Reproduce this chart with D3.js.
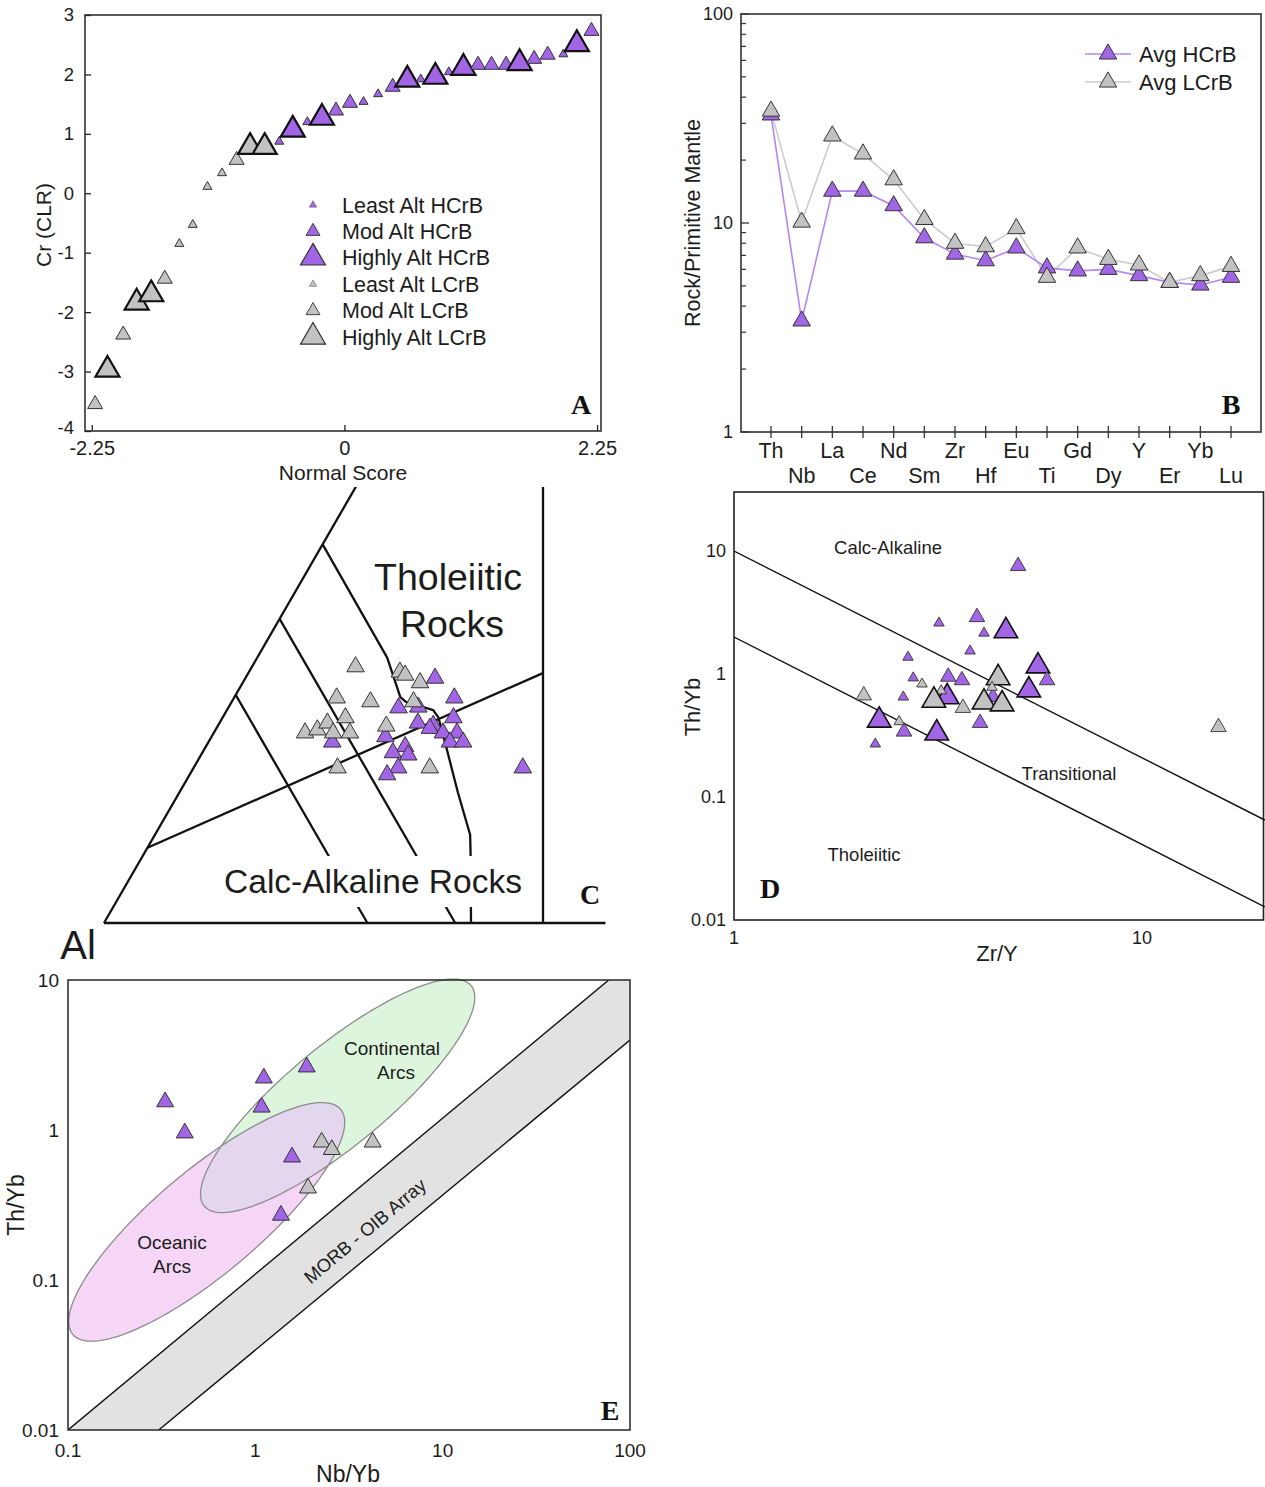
<!DOCTYPE html>
<html>
<head>
<meta charset="utf-8">
<script src="https://cdn.jsdelivr.net/npm/d3@7"></script>
<style>
  body { margin: 0; background: #fff; }
  svg { display: block; }
  text { font-family: "Liberation Sans", Arial, sans-serif; fill: #1c1c1c; }
  .panel-letter { font-family: "Liberation Serif", "Times New Roman", serif; font-weight: bold; font-size: 28px; fill: #111; }
</style>
</head>
<body>
<svg id="fig" width="1265" height="1487"></svg>
<script>
// ---------------- Panel A: normal-score plot of Cr (CLR) ----------------
const normalScoreA = [-2.22,-2.11,-1.97,-1.85,-1.72,-1.60,-1.47,-1.35,-1.22,-1.09,-0.96,-0.84,-0.71,-0.58,-0.46,-0.33,-0.20,-0.075,0.05,0.17,0.30,0.43,0.56,0.68,0.81,0.93,1.06,1.19,1.31,1.44,1.56,1.69,1.81,1.95,2.07,2.20];
const crClrA = [-3.55,-2.97,-2.38,-1.84,-1.70,-1.44,-0.85,-0.53,0.11,0.34,0.56,0.78,0.78,0.87,1.07,1.20,1.27,1.39,1.52,1.54,1.67,1.79,1.91,1.92,1.96,2.04,2.11,2.16,2.16,2.16,2.19,2.26,2.33,2.34,2.51,2.73];
const crbTypeA = ["L","L","L","L","L","L","L","L","L","L","L","L","L","H","H","H","H","H","H","H","H","H","H","H","H","H","H","H","H","H","H","H","H","H","H","H"];
const alterationA = ["mod","highly","mod","highly","highly","mod","least","least","least","least","mod","highly","highly","least","highly","least","highly","mod","mod","least","least","mod","highly","least","highly","least","highly","mod","mod","mod","highly","mod","mod","least","highly","mod"];
const ticksAX = [-2.25, 0, 2.25];
const ticksAY = [-4,-3,-2,-1,0,1,2,3];
const legendA = [
  {label: "Least Alt HCrB", type: "H", alt: "least"},
  {label: "Mod Alt HCrB", type: "H", alt: "mod"},
  {label: "Highly Alt HCrB", type: "H", alt: "highly"},
  {label: "Least Alt LCrB", type: "L", alt: "least"},
  {label: "Mod Alt LCrB", type: "L", alt: "mod"},
  {label: "Highly Alt LCrB", type: "L", alt: "highly"}
];

// ---------------- Panel B: primitive-mantle normalised averages ----------------
const elementsB = ["Th","Nb","La","Ce","Nd","Sm","Zr","Hf","Eu","Ti","Gd","Dy","Y","Er","Yb","Lu"];
const avgHCrB = [32.9,3.4,14.2,14.2,12.1,8.5,7.1,6.6,7.6,6.1,5.9,6.0,5.6,5.2,5.05,5.5];
const avgLCrB = [34.3,10.1,26.1,21.4,16.1,10.4,8.0,7.7,9.4,5.5,7.6,6.7,6.3,5.2,5.6,6.2];
const ticksBY = [1, 10, 100];

// ---------------- Panel C: Al – (Fe+Ti) – Mg cation ternary ----------------
// every position is [Fe+Ti %, Mg %]; Al % is the remainder
const ternEdges = [[[0,0],[100,0]], [[0,0],[0,100]], [[100,0],[0,50]]];
const ternDivider = [[9.9,0],[32.9,33.6]];
const ternFields = [
  [[30,0],[0,30]],
  [[40,0],[0,40]],
  [[49.8,0],[34.9,14.8],[29.7,18.9],[29.1,19.8],[28.0,23.5],[27.0,24.6],[22.6,27.8],[17.2,31.7],[11.6,35.9],[9.3,37.1],[0,41.8]]
];
const ternHCrB = [[32.2,21.6],[29.6,25.1],[28.3,19.4],[28.4,21.6],[27.0,26.3],[26.3,22.6],[26.0,24.5],[25.6,24.3],[25.0,26.1],[25.0,27.7],[23.8,27.5],[23.8,29.0],[24.5,19.8],[23.8,14.1],[23.2,22.7],[22.4,21.7],[22.1,23.6],[20.4,23.3],[19.5,22.5],[20.4,37.5]];
const ternLCrB = [[33.7,11.8],[33.0,17.2],[32.6,18.0],[31.6,20.2],[29.6,11.7],[29.1,15.8],[29.1,20.7],[25.0,10.4],[25.4,11.6],[26.3,12.3],[27.0,14.0],[25.0,13.6],[25.0,15.5],[25.9,19.2],[20.4,16.4],[20.4,26.9]];

// ---------------- Panel D: Th/Yb vs Zr/Y ----------------
const dHZrY  = [4.97,3.94,3.18,4.10,4.64,3.79,2.67,5.56,5.85,2.75,3.35,3.62,5.28,2.60,3.33,2.27,2.61,3.14,4.01,2.22,4.31];
const dHThYb = [7.55,2.90,2.60,2.15,2.24,1.54,1.37,1.16,0.89,0.93,0.95,0.89,0.74,0.65,0.65,0.42,0.34,0.33,0.40,0.27,0.65];
const dHAlt  = ["mod","mod","least","least","highly","least","least","highly","mod","least","mod","mod","highly","least","highly","highly","mod","highly","mod","least","mod"];
const dLZrY  = [2.08,2.89,3.22,3.09,3.64,4.44,4.29,4.10,4.54,2.54,15.4];
const dLThYb = [0.67,0.83,0.73,0.61,0.53,0.93,0.78,0.59,0.57,0.41,0.37];
const dLAlt  = ["mod","least","least","highly","mod","highly","least","highly","highly","least","mod"];
const dBoundaryUpper = [[1,10],[20,0.065]];
const dBoundaryLower = [[1,2],[20,0.0128]];
const ticksDX = [1, 10];
const ticksDY = [0.01, 0.1, 1, 10];

// ---------------- Panel E: Th/Yb vs Nb/Yb ----------------
const eHNbYb = [0.33,0.42,1.11,1.08,1.88,1.57,1.37];
const eHThYb = [1.54,0.955,2.22,1.42,2.63,0.66,0.27];
const eLNbYb = [2.26,2.56,4.23,1.91];
const eLThYb = [0.83,0.74,0.83,0.41];
const morbUpper = [[0.1,0.01],[77,10]];
const morbLower = [[0.305,0.01],[100,3.98]];
// arc fields: centre (Nb/Yb, Th/Yb) and half-axes in log10 decades
const oceanicArc = {center: [0.55, 0.244], major: [0.715, 0.750], minor: [0.178, -0.265]};
const continentalArc = {center: [2.75, 1.69], major: [0.712, 0.735], minor: [0.170, -0.256]};
const ticksEX = [0.1, 1, 10, 100];
const ticksEY = [0.01, 0.1, 1, 10];

// ---------------- shared styling ----------------
const PURPLE = "#a265e6";
const GREY = "#c2c2c2";
const svg = d3.select("#fig");

function triPath(side) {
  return d3.symbol(d3.symbolTriangle, side * side * Math.sqrt(3) / 4)();
}
function drawTri(g, x, y, side, fill, stroke, sw) {
  g.append("path")
    .attr("d", triPath(side))
    .attr("transform", `translate(${x},${y})`)
    .attr("fill", fill)
    .attr("stroke", stroke)
    .attr("stroke-width", sw)
    .attr("stroke-linejoin", "miter");
}
function styleAxis(g, size) {
  g.select(".domain").remove();
  g.selectAll(".tick line").attr("stroke", "#222").attr("stroke-width", 1.3);
  g.selectAll(".tick text").attr("font-size", size).attr("fill", "#1c1c1c")
    .style("font-family", '"Liberation Sans", Arial, sans-serif');
}

// ======================= Panel A =======================
{
  const g = svg.append("g");
  const x = d3.scaleLinear([-2.31, 2.285], [85, 601]);
  const y = d3.scaleLinear([-4, 3], [431, 15]);
  const sizeA = {least: 9, mod: 15, highly: 24};

  g.append("rect").attr("x", x.range()[0]).attr("y", y.range()[1])
    .attr("width", x.range()[1] - x.range()[0]).attr("height", y.range()[0] - y.range()[1])
    .attr("fill", "none").attr("stroke", "#333").attr("stroke-width", 1.6);

  const ax = g.append("g").attr("transform", `translate(${x.range()[0]},0)`)
    .call(d3.axisLeft(y).tickValues(ticksAY).tickSize(-6).tickPadding(11).tickFormat(d => String(d)));
  styleAxis(ax, 18.5);
  // lift the lowest label a touch so it clears the first x label
  ax.selectAll(".tick text").filter(d => d === -4).attr("dy", "0.12em");
  const bx = g.append("g").attr("transform", `translate(0,${y.range()[0]})`)
    .call(d3.axisBottom(x).tickValues(ticksAX).tickSize(-6).tickPadding(10).tickFormat(d => String(d)));
  styleAxis(bx, 20);

  g.append("text").attr("transform", `translate(51,225) rotate(-90)`)
    .attr("text-anchor", "middle").attr("font-size", 21).text("Cr (CLR)");
  g.append("text").attr("x", 343).attr("y", 480).attr("text-anchor", "middle")
    .attr("font-size", 21).text("Normal Score");

  normalScoreA.forEach((ns, i) => {
    const alt = alterationA[i];
    const fill = crbTypeA[i] === "H" ? PURPLE : GREY;
    const hi = alt === "highly";
    drawTri(g, x(ns), y(crClrA[i]), sizeA[alt], fill, hi ? "#111" : "#333", hi ? 2.2 : 1);
  });

  legendA.forEach((d, i) => {
    const yy = 205 + i * 26.4;
    const hi = d.alt === "highly";
    const side = {least: 7.5, mod: 14, highly: 25}[d.alt];
    drawTri(g, 313, yy, side, d.type === "H" ? PURPLE : GREY,
      d.alt === "least" ? "#666" : "#333", hi ? 1.2 : (d.alt === "least" ? 0.6 : 0.9));
    g.append("text").attr("x", 342).attr("y", yy).attr("dy", "0.35em")
      .attr("font-size", 21.5).text(d.label);
  });

  g.append("text").attr("class", "panel-letter").attr("x", 581).attr("y", 414)
    .attr("text-anchor", "middle").text("A");
}

// ======================= Panel B =======================
{
  const g = svg.append("g");
  const x = d3.scalePoint(elementsB, [771, 1231]);
  const y = d3.scaleLog([1, 100], [432, 14]);
  const left = 741, right = 1261;

  g.append("rect").attr("x", left).attr("y", y.range()[1])
    .attr("width", right - left).attr("height", y.range()[0] - y.range()[1])
    .attr("fill", "none").attr("stroke", "#333").attr("stroke-width", 1.6);

  // log ticks: labelled decades plus minor ticks
  const minor = [];
  [1, 10].forEach(dec => d3.range(2, 10).forEach(m => minor.push(dec * m)));
  g.selectAll(".minorB").data(minor).join("line")
    .attr("x1", left).attr("x2", left + 5)
    .attr("y1", d => y(d)).attr("y2", d => y(d))
    .attr("stroke", "#333").attr("stroke-width", 1.2);
  g.selectAll(".majorB").data(ticksBY).join("line")
    .attr("x1", left).attr("x2", left + 8)
    .attr("y1", d => y(d)).attr("y2", d => y(d))
    .attr("stroke", "#333").attr("stroke-width", 1.3);
  g.selectAll(".ylabB").data(ticksBY).join("text")
    .attr("x", left - 8).attr("y", d => y(d)).attr("dy", "0.35em")
    .attr("text-anchor", "end").attr("font-size", 18).text(d => String(d));

  g.selectAll(".xtickB").data(elementsB).join("line")
    .attr("x1", d => x(d)).attr("x2", d => x(d))
    .attr("y1", y.range()[0] - 6).attr("y2", y.range()[0] + 6)
    .attr("stroke", "#333").attr("stroke-width", 1.3);
  g.selectAll(".xlabB").data(elementsB).join("text")
    .attr("x", d => x(d)).attr("y", (d, i) => i % 2 === 0 ? 458 : 483)
    .attr("text-anchor", "middle").attr("font-size", 21.5).text(d => d);

  g.append("text").attr("transform", `translate(700,223) rotate(-90)`)
    .attr("text-anchor", "middle").attr("font-size", 21.5).text("Rock/Primitive Mantle");

  const line = d3.line().x(d => x(d[0])).y(d => y(d[1]));
  const hPts = elementsB.map((e, i) => [e, avgHCrB[i]]);
  const lPts = elementsB.map((e, i) => [e, avgLCrB[i]]);
  g.append("path").attr("d", line(lPts)).attr("fill", "none").attr("stroke", "#cbcbcb").attr("stroke-width", 1.6);
  g.append("path").attr("d", line(hPts)).attr("fill", "none").attr("stroke", "#b586f2").attr("stroke-width", 1.6);
  hPts.forEach(p => drawTri(g, x(p[0]), y(p[1]), 17.5, PURPLE, "#333", 1));
  lPts.forEach(p => drawTri(g, x(p[0]), y(p[1]), 17.5, GREY, "#333", 1));

  // legend
  [["Avg HCrB", PURPLE, "#b586f2", 54], ["Avg LCrB", GREY, "#cbcbcb", 82]].forEach(([lab, fill, ln, yy]) => {
    g.append("line").attr("x1", 1085).attr("x2", 1131).attr("y1", yy).attr("y2", yy)
      .attr("stroke", ln).attr("stroke-width", 1.6);
    drawTri(g, 1108, yy, 17.5, fill, "#333", 1);
    g.append("text").attr("x", 1139).attr("y", yy).attr("dy", "0.35em").attr("font-size", 22).text(lab);
  });

  g.append("text").attr("class", "panel-letter").attr("x", 1231).attr("y", 414)
    .attr("text-anchor", "middle").text("B");
}

// ======================= Panel C =======================
{
  const g = svg.append("g");
  const h = Math.sqrt(3) / 2;
  const xT = d3.scaleLinear([0, 100], [104, 982]);
  const yT = d3.scaleLinear([0, 100 * h], [923, 923 - 878 * h]);
  const proj = ([f, m]) => [xT(m + f / 2), yT(f * h)];
  const line = d3.line().x(d => proj(d)[0]).y(d => proj(d)[1]);

  svg.append("defs").append("clipPath").attr("id", "clipC")
    .append("rect").attr("x", 90).attr("y", 487).attr("width", 515.5).attr("height", 445);
  const frame = g.append("g").attr("clip-path", "url(#clipC)");

  [...ternEdges, ternDivider, ...ternFields].forEach(seg => {
    frame.append("path").attr("d", line(seg)).attr("fill", "none")
      .attr("stroke", "#111").attr("stroke-width", 2.3).attr("stroke-linejoin", "round");
  });

  ternHCrB.forEach(p => { const [px, py] = proj(p); drawTri(g, px, py, 17.5, PURPLE, "#333", 1); });
  ternLCrB.forEach(p => { const [px, py] = proj(p); drawTri(g, px, py, 17.5, GREY, "#333", 1); });

  g.append("rect").attr("x", 220).attr("y", 856).attr("width", 306).attr("height", 51).attr("fill", "#fff");
  g.append("text").attr("x", 373).attr("y", 893).attr("text-anchor", "middle")
    .attr("font-size", 33.5).text("Calc-Alkaline Rocks");
  g.append("text").attr("x", 448).attr("y", 590).attr("text-anchor", "middle")
    .attr("font-size", 37.5).text("Tholeiitic");
  g.append("text").attr("x", 452).attr("y", 637).attr("text-anchor", "middle")
    .attr("font-size", 37.5).text("Rocks");
  g.append("text").attr("x", 78).attr("y", 959).attr("text-anchor", "middle")
    .attr("font-size", 40).text("Al");
  g.append("text").attr("class", "panel-letter").attr("x", 590).attr("y", 904)
    .attr("text-anchor", "middle").text("C");
}

// ======================= Panel D =======================
{
  const g = svg.append("g");
  const x = d3.scaleLog([1, 20], [734, 1264.8]);
  const y = d3.scaleLog([0.01, 30.2], [920, 492]);
  const sizeD = {least: 10.5, mod: 15.5, highly: 23.5};

  svg.append("defs").append("clipPath").attr("id", "clipD")
    .append("rect").attr("x", 734).attr("y", 492).attr("width", 531).attr("height", 428);

  g.append("rect").attr("x", 734).attr("y", 492).attr("width", 529.5).attr("height", 428)
    .attr("fill", "none").attr("stroke", "#222").attr("stroke-width", 1.6);

  const line = d3.line().x(d => x(d[0])).y(d => y(d[1]));
  [dBoundaryUpper, dBoundaryLower].forEach(seg => {
    g.append("path").attr("d", line(seg)).attr("clip-path", "url(#clipD)")
      .attr("fill", "none").attr("stroke", "#111").attr("stroke-width", 1.4);
  });

  g.selectAll(".ylabD").data(ticksDY).join("text")
    .attr("x", 726).attr("y", d => y(d)).attr("dy", "0.35em")
    .attr("text-anchor", "end").attr("font-size", 18).text(d => String(d));
  g.selectAll(".xlabD").data(ticksDX).join("text")
    .attr("x", d => x(d)).attr("y", 944)
    .attr("text-anchor", "middle").attr("font-size", 18).text(d => String(d));
  g.append("text").attr("transform", `translate(700,707) rotate(-90)`)
    .attr("text-anchor", "middle").attr("font-size", 22).text("Th/Yb");
  g.append("text").attr("x", 997).attr("y", 961).attr("text-anchor", "middle")
    .attr("font-size", 22).text("Zr/Y");

  g.append("text").attr("x", 888).attr("y", 554).attr("text-anchor", "middle").attr("font-size", 18.5).text("Calc-Alkaline");
  g.append("text").attr("x", 1069).attr("y", 780).attr("text-anchor", "middle").attr("font-size", 18.5).text("Transitional");
  g.append("text").attr("x", 864).attr("y", 861).attr("text-anchor", "middle").attr("font-size", 18.5).text("Tholeiitic");

  dHZrY.forEach((v, i) => {
    const hi = dHAlt[i] === "highly";
    drawTri(g, x(v), y(dHThYb[i]), sizeD[dHAlt[i]], PURPLE, hi ? "#111" : "#333", hi ? 1.6 : 0.9);
  });
  dLZrY.forEach((v, i) => {
    const hi = dLAlt[i] === "highly";
    drawTri(g, x(v), y(dLThYb[i]), sizeD[dLAlt[i]], GREY, hi ? "#111" : "#333", hi ? 1.6 : 0.9);
  });

  g.append("text").attr("class", "panel-letter").attr("x", 770).attr("y", 898)
    .attr("text-anchor", "middle").text("D");
}

// ======================= Panel E =======================
{
  const g = svg.append("g");
  const x = d3.scaleLog([0.1, 100], [68, 630]);
  const y = d3.scaleLog([0.01, 10], [1430, 980]);

  svg.append("defs").append("clipPath").attr("id", "clipE")
    .append("rect").attr("x", 68).attr("y", 980).attr("width", 562).attr("height", 450);

  // MORB-OIB array band
  const line = d3.line().x(d => x(d[0])).y(d => y(d[1]));
  const band = [morbUpper[0], morbUpper[1], [100, 10], morbLower[1], morbLower[0]];
  g.append("path").attr("clip-path", "url(#clipE)")
    .attr("d", line(band) + "Z")
    .attr("fill", "#e2e2e2");
  [morbUpper, morbLower].forEach(seg => {
    g.append("path").attr("d", line(seg)).attr("clip-path", "url(#clipE)")
      .attr("fill", "none").attr("stroke", "#111").attr("stroke-width", 1.4);
  });

  // arc fields
  function ellipsePts(f) {
    const lc = [Math.log10(f.center[0]), Math.log10(f.center[1])];
    return d3.range(0, 360, 2).map(a => {
      const t = a * Math.PI / 180;
      const lx = lc[0] + Math.cos(t) * f.major[0] + Math.sin(t) * f.minor[0];
      const ly = lc[1] + Math.cos(t) * f.major[1] + Math.sin(t) * f.minor[1];
      return [Math.pow(10, lx), Math.pow(10, ly)];
    });
  }
  const closed = pts => line(pts) + "Z";
  const oceanPath = closed(ellipsePts(oceanicArc));
  const contPath = closed(ellipsePts(continentalArc));
  svg.append("defs").append("clipPath").attr("id", "clipCont").append("path").attr("d", contPath);

  g.append("path").attr("d", oceanPath).attr("fill", "#f6d6f7");
  g.append("path").attr("d", contPath).attr("fill", "#dcf5dc");
  g.append("path").attr("d", oceanPath).attr("clip-path", "url(#clipCont)").attr("fill", "#e4d6ef");
  g.append("path").attr("d", oceanPath).attr("fill", "none").attr("stroke", "#8c8c8c").attr("stroke-width", 1.3);
  g.append("path").attr("d", contPath).attr("fill", "none").attr("stroke", "#8c8c8c").attr("stroke-width", 1.3);

  g.append("rect").attr("x", 68).attr("y", 980).attr("width", 562).attr("height", 450)
    .attr("fill", "none").attr("stroke", "#333").attr("stroke-width", 1.6);

  g.selectAll(".ylabE").data(ticksEY).join("text")
    .attr("x", 59).attr("y", d => y(d)).attr("dy", "0.35em")
    .attr("text-anchor", "end").attr("font-size", 19).text(d => String(d));
  g.selectAll(".xlabE").data(ticksEX).join("text")
    .attr("x", d => x(d)).attr("y", 1457)
    .attr("text-anchor", "middle").attr("font-size", 19).text(d => String(d));
  g.append("text").attr("transform", `translate(24,1205) rotate(-90)`)
    .attr("text-anchor", "middle").attr("font-size", 23).text("Th/Yb");
  g.append("text").attr("x", 348).attr("y", 1482).attr("text-anchor", "middle")
    .attr("font-size", 23).text("Nb/Yb");

  g.append("text").attr("x", 392).attr("y", 1055).attr("text-anchor", "middle").attr("font-size", 19).text("Continental");
  g.append("text").attr("x", 396).attr("y", 1079).attr("text-anchor", "middle").attr("font-size", 19).text("Arcs");
  g.append("text").attr("x", 172).attr("y", 1249).attr("text-anchor", "middle").attr("font-size", 19).text("Oceanic");
  g.append("text").attr("x", 172).attr("y", 1273).attr("text-anchor", "middle").attr("font-size", 19).text("Arcs");
  const ang = Math.atan2(y(morbUpper[1][1]) - y(morbUpper[0][1]), x(morbUpper[1][0]) - x(morbUpper[0][0])) * 180 / Math.PI;
  g.append("text").attr("transform", `translate(365,1231) rotate(${ang})`)
    .attr("text-anchor", "middle").attr("dy", "0.35em").attr("font-size", 18.5).text("MORB - OIB Array");

  eHNbYb.forEach((v, i) => drawTri(g, x(v), y(eHThYb[i]), 17, PURPLE, "#333", 1));
  eLNbYb.forEach((v, i) => drawTri(g, x(v), y(eLThYb[i]), 17, GREY, "#333", 1));

  g.append("text").attr("class", "panel-letter").attr("x", 610).attr("y", 1420)
    .attr("text-anchor", "middle").text("E");
}
</script>
</body>
</html>
